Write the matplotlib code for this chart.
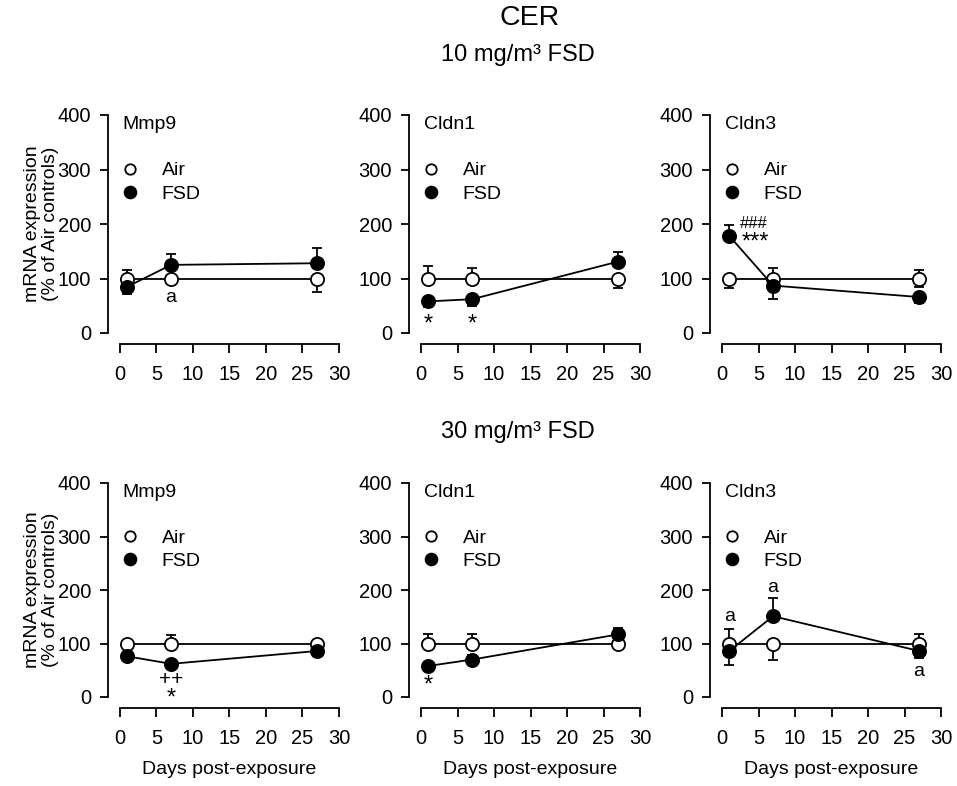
import matplotlib
matplotlib.use("Agg")
import matplotlib.pyplot as plt
from matplotlib.lines import Line2D
import numpy as np

plt.rcParams['font.family'] = ['Liberation Sans', 'DejaVu Sans']

days = [1, 7, 27]
genes = ["Mmp9", "Cldn1", "Cldn3"]
x_ticks = [0, 5, 10, 15, 20, 25, 30]
y_ticks = [0, 100, 200, 300, 400]

# ---- 10 mg/m3 FSD ----
air_10 = {"Mmp9": [100, 100, 100], "Cldn1": [100, 100, 100], "Cldn3": [100, 100, 100]}
air_10_lo = {"Mmp9": [0, 10, 24], "Cldn1": [0, 0, 17], "Cldn3": [17, 0, 15]}
air_10_hi = {"Mmp9": [15, 0, 0], "Cldn1": [23, 20, 0], "Cldn3": [0, 20, 16]}
fsd_10 = {"Mmp9": [85, 125, 128], "Cldn1": [58, 62, 131], "Cldn3": [178, 87, 66]}
fsd_10_lo = {"Mmp9": [13, 0, 0], "Cldn1": [11, 13, 0], "Cldn3": [0, 25, 11]}
fsd_10_hi = {"Mmp9": [0, 20, 28], "Cldn1": [0, 0, 18], "Cldn3": [20, 0, 0]}

# ---- 30 mg/m3 FSD ----
air_30 = {"Mmp9": [100, 100, 100], "Cldn1": [100, 100, 100], "Cldn3": [100, 100, 100]}
air_30_lo = {"Mmp9": [0, 0, 0], "Cldn1": [0, 0, 8], "Cldn3": [0, 30, 0]}
air_30_hi = {"Mmp9": [3, 15, 3], "Cldn1": [18, 17, 0], "Cldn3": [28, 0, 18]}
fsd_30 = {"Mmp9": [76, 62, 86], "Cldn1": [58, 70, 117], "Cldn3": [86, 151, 86]}
fsd_30_lo = {"Mmp9": [3, 3, 3], "Cldn1": [5, 8, 0], "Cldn3": [26, 0, 14]}
fsd_30_hi = {"Mmp9": [0, 0, 0], "Cldn1": [0, 8, 12], "Cldn3": [0, 34, 0]}

# significance annotations: (text, day, y-value, fontsize)
annot_10 = {
    "Mmp9": [("a", 7, 66, 14)],
    "Cldn1": [("*", 1, 16, 17), ("*", 7, 16, 17)],
    "Cldn3": [("###", 4.3, 200, 12), ("***", 4.6, 166, 17)],
}
annot_30 = {
    "Mmp9": [("++", 7, 33, 15), ("*", 7, -3, 17)],
    "Cldn1": [("*", 1, 22, 17)],
    "Cldn3": [("a", 1, 151, 14), ("a", 7, 204, 14), ("a", 27, 47, 14)],
}

W, H = 957, 786
fig = plt.figure(figsize=(W / 100, H / 100), dpi=100)

col_left_px = [120, 421, 722]
col_w_px = 219
rows = [
    dict(top=115, bottom=333, air=air_10, air_lo=air_10_lo, air_hi=air_10_hi,
         fsd=fsd_10, fsd_lo=fsd_10_lo, fsd_hi=fsd_10_hi, annot=annot_10, xlabel=False),
    dict(top=483, bottom=697, air=air_30, air_lo=air_30_lo, air_hi=air_30_hi,
         fsd=fsd_30, fsd_lo=fsd_30_lo, fsd_hi=fsd_30_hi, annot=annot_30, xlabel=True),
]

lw = 1.3
for r in rows:
    for ci, g in enumerate(genes):
        left = col_left_px[ci] / W
        bottom = 1 - r["bottom"] / H
        height = (r["bottom"] - r["top"]) / H
        ax = fig.add_axes([left, bottom, col_w_px / W, height])
        ax.set_xlim(0, 30)
        ax.set_ylim(0, 400)
        for s in ["top", "right"]:
            ax.spines[s].set_visible(False)
        ax.spines["left"].set_position(("outward", 8.6))
        ax.spines["bottom"].set_position(("outward", 7.9))
        ax.spines["left"].set_linewidth(lw)
        ax.spines["bottom"].set_linewidth(lw)
        ax.set_xticks(x_ticks)
        ax.set_yticks(y_ticks)
        ax.tick_params(axis="y", direction="out", length=5.8, width=lw, pad=6.5, labelsize=14.5)
        ax.tick_params(axis="x", direction="out", length=6.5, width=lw, pad=9, labelsize=14.5)

        # Air
        ax.errorbar(days, r["air"][g], yerr=[r["air_lo"][g], r["air_hi"][g]],
                    fmt="-o", color="black", mfc="white", mec="black", mew=lw,
                    ms=9.5, lw=lw, elinewidth=lw, capsize=3.5, capthick=lw,
                    clip_on=False, zorder=3)
        # FSD
        ax.errorbar(days, r["fsd"][g], yerr=[r["fsd_lo"][g], r["fsd_hi"][g]],
                    fmt="-o", color="black", mfc="black", mec="black", mew=lw,
                    ms=9.5, lw=lw, elinewidth=lw, capsize=3.5, capthick=lw,
                    clip_on=False, zorder=4)

        ax.text(0.012, 0.955, g, transform=ax.transAxes, fontsize=14,
                ha="left", va="center")

        handles = [
            Line2D([], [], ls="none", marker="o", mfc="white", mec="black", mew=lw, ms=7.5),
            Line2D([], [], ls="none", marker="o", mfc="black", mec="black", mew=lw, ms=8.5),
        ]
        ax.legend(handles, ["Air", "FSD"], loc="upper left", bbox_to_anchor=(0.0, 0.785),
                  frameon=False, fontsize=14, handlelength=1.0, handletextpad=1.15,
                  labelspacing=0.3, borderpad=0, borderaxespad=0)

        for txt, xd, yd, fs in r["annot"][g]:
            ax.text(xd, yd, txt, ha="center", va="center", fontsize=fs)

        if ci == 0:
            ax.set_ylabel("mRNA expression\n(% of Air controls)", fontsize=14,
                          linespacing=1.1, labelpad=-1)
        if r["xlabel"]:
            ax.set_xlabel("Days post-exposure", fontsize=14, labelpad=9)

fig.text(530 / W, 1 - 18 / H, "CER", ha="center", va="center", fontsize=20.5)
fig.text(518 / W, 1 - 55 / H, "10 mg/m³ FSD", ha="center", va="center", fontsize=17)
fig.text(518 / W, 1 - 432 / H, "30 mg/m³ FSD", ha="center", va="center", fontsize=17)

fig.savefig("out.png", dpi=100)
